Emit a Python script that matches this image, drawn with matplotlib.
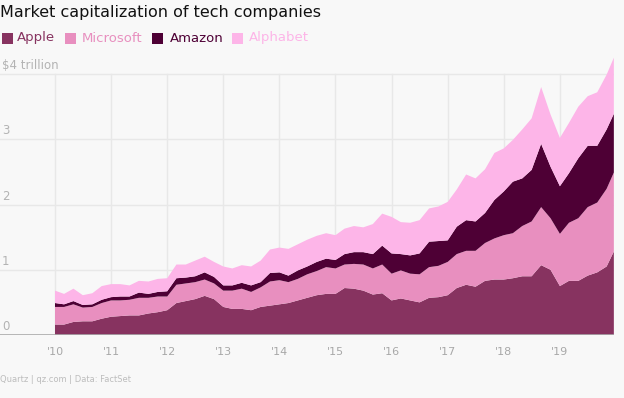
import numpy as np
import pandas as pd
import matplotlib
matplotlib.use("Agg")
import matplotlib.pyplot as plt
from matplotlib.patches import Rectangle

# fechas cada dos meses, ultimo punto a mediados de diciembre 2019
fechas = list(pd.date_range("2010-01-01", "2019-11-01", freq="2MS").strftime("%Y-%m-%d")) + ["2019-12-18"]

# capitalizacion en billones (trillion) de USD
apple = [0.16, 0.16, 0.20, 0.21, 0.21, 0.25, 0.28, 0.29, 0.30, 0.30, 0.33, 0.35,
         0.38, 0.49, 0.52, 0.55, 0.60, 0.55, 0.43, 0.40, 0.40, 0.38, 0.43, 0.45,
         0.47, 0.49, 0.53, 0.57, 0.61, 0.63, 0.63, 0.72, 0.71, 0.68, 0.62, 0.64,
         0.53, 0.56, 0.53, 0.50, 0.57, 0.58, 0.61, 0.72, 0.77, 0.74, 0.83, 0.85,
         0.85, 0.87, 0.90, 0.90, 1.07, 1.00, 0.75, 0.83, 0.83, 0.91, 0.96, 1.05,
         1.28]
microsoft = [0.27, 0.27, 0.27, 0.21, 0.22, 0.24, 0.25, 0.24, 0.24, 0.27, 0.24, 0.24,
             0.21, 0.28, 0.27, 0.26, 0.25, 0.24, 0.25, 0.28, 0.31, 0.28, 0.30, 0.37,
             0.37, 0.32, 0.33, 0.36, 0.37, 0.41, 0.39, 0.36, 0.38, 0.40, 0.40, 0.44,
             0.41, 0.43, 0.41, 0.43, 0.47, 0.48, 0.51, 0.52, 0.52, 0.55, 0.58, 0.63,
             0.68, 0.69, 0.77, 0.84, 0.89, 0.79, 0.80, 0.89, 0.96, 1.05, 1.07, 1.19,
             1.21]
amazon = [0.06, 0.04, 0.05, 0.04, 0.04, 0.05, 0.05, 0.06, 0.05, 0.08, 0.06, 0.07,
          0.08, 0.10, 0.09, 0.09, 0.11, 0.10, 0.08, 0.08, 0.09, 0.10, 0.08, 0.13,
          0.12, 0.10, 0.13, 0.12, 0.14, 0.13, 0.13, 0.16, 0.18, 0.19, 0.22, 0.29,
          0.31, 0.25, 0.28, 0.32, 0.39, 0.38, 0.33, 0.42, 0.47, 0.45, 0.46, 0.59,
          0.67, 0.79, 0.73, 0.79, 0.97, 0.79, 0.73, 0.76, 0.92, 0.94, 0.87, 0.91,
          0.90]
alphabet = [0.19, 0.16, 0.19, 0.15, 0.17, 0.21, 0.20, 0.19, 0.17, 0.18, 0.19, 0.20,
            0.20, 0.21, 0.20, 0.24, 0.24, 0.23, 0.29, 0.26, 0.27, 0.29, 0.33, 0.36,
            0.38, 0.41, 0.40, 0.41, 0.40, 0.39, 0.38, 0.39, 0.40, 0.38, 0.46, 0.49,
            0.56, 0.49, 0.50, 0.51, 0.51, 0.53, 0.59, 0.57, 0.70, 0.66, 0.67, 0.72,
            0.66, 0.64, 0.75, 0.79, 0.87, 0.80, 0.74, 0.77, 0.79, 0.76, 0.82, 0.84,
            0.86]

nombres = ["Apple", "Microsoft", "Amazon", "Alphabet"]
colores = ["#873360", "#e88fbf", "#4e0035", "#fdb5e8"]
años = list(range(2010, 2020))
etiquetas_x = ["'%d" % (a % 100) for a in años]
valores_y = [0, 1, 2, 3, 4]
etiquetas_y = ["0", "1", "2", "3", "$4 trillion"]

fondo = "#f8f8f8"
gris = "#ababab"

d = pd.to_datetime(fechas)
x = d.year + (d.dayofyear - 1) / 365.0

W, H = 624, 398
fig = plt.figure(figsize=(W / 100, H / 100), dpi=100)
fig.patch.set_facecolor(fondo)

# pixeles de referencia
px_izq, px_der = 0, 614
py_cero, py_cuatro = 335, 74
x0_px, paso_año = 55, 56.1
ymax = 4.3
py_top = py_cero - ymax * (py_cero - py_cuatro) / 4

ax = fig.add_axes([px_izq / W, 1 - py_cero / H, (px_der - px_izq) / W, (py_cero - py_top) / H])
ax.set_facecolor(fondo)
ax.set_xlim(2010 - (x0_px - px_izq) / paso_año, 2010 + (px_der - x0_px) / paso_año)
ax.set_ylim(0, ymax)
for s in ax.spines.values():
    s.set_visible(False)
ax.set_xticks([])
ax.set_yticks([])

# rejilla
for v in valores_y[1:]:
    ax.axhline(v, color="#e8e8e8", lw=1, zorder=0)
for a in años:
    ax.plot([a, a], [0, 4], color="#e8e8e8", lw=1, zorder=0)

ax.stackplot(x, apple, microsoft, amazon, alphabet, colors=colores, lw=0, zorder=2)
ax.axhline(0, color=gris, lw=1.2, zorder=3)

# etiquetas eje y
for v, et in zip(valores_y, etiquetas_y):
    ax.annotate(et, xy=(0, v), xycoords=("axes fraction", "data"),
                xytext=(2, 2), textcoords="offset pixels",
                ha="left", va="bottom", fontsize=8.5, color="#b3b3b3")

# etiquetas eje x
for a, et in zip(años, etiquetas_x):
    ax.annotate(et, xy=(a, 0), xycoords="data", xytext=(0, -12),
                textcoords="offset pixels", ha="center", va="top",
                fontsize=8, color="#a8a8a8")

fig.text(0, 1 - 12 / H, "Market capitalization of tech companies",
         ha="left", va="center", fontsize=11.5, color="#111111")

# leyenda
cuadros = [2, 65, 152, 232]
textos = [17, 82, 170, 249]
ly = 38
for n, c, qx, tx in zip(nombres, colores, cuadros, textos):
    fig.patches.append(Rectangle((qx / W, 1 - (ly + 6) / H), 11 / W, 11 / H,
                                 transform=fig.transFigure, facecolor=c,
                                 edgecolor="none"))
    fig.text(tx / W, 1 - ly / H, n, ha="left", va="center", fontsize=9.5, color=c)

fig.text(0, 1 - 380 / H, "Quartz | qz.com | Data: FactSet", ha="left", va="center",
         fontsize=6, color="#bdbdbd")

fig.savefig("out.png", dpi=100, facecolor=fondo)
